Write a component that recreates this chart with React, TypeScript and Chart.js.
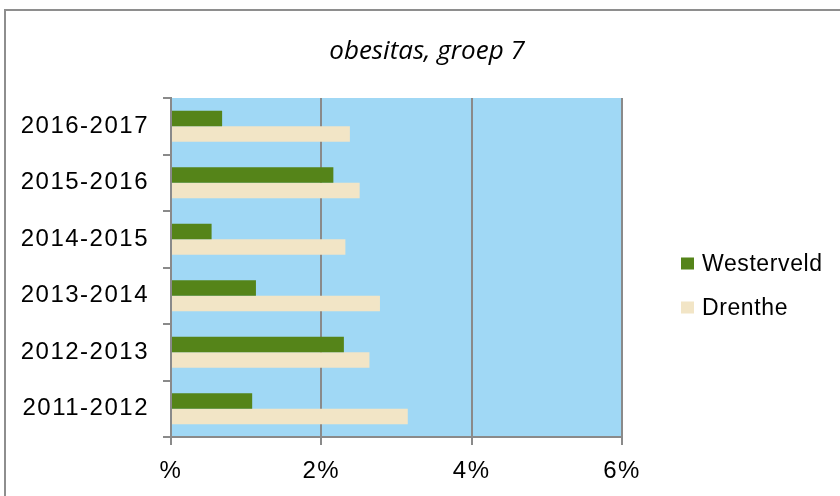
import React, { useEffect, useRef } from "react";
import { Chart, registerables } from "chart.js";

Chart.register(...registerables);

const years = ["2016-2017", "2015-2016", "2014-2015", "2013-2014", "2012-2013", "2011-2012"];
const westerveld = [0.68, 2.16, 0.54, 1.13, 2.30, 1.08];
const drenthe = [2.38, 2.51, 2.32, 2.78, 2.64, 3.15];
const seriesNames = ["Westerveld", "Drenthe"];
const xTickLabels = ["%", "2%", "4%", "6%"];
const chartTitle = "obesitas, groep 7";

const GREEN = "#558419";
const CREAM = "#f2e5c6";
const BLUE = "#a0d8f5";
const GRAY = "#8a8a8a";

const framePlugin = {
  id: "frame",
  beforeDraw(chart: any) {
    const { ctx, chartArea } = chart;
    ctx.save();
    ctx.fillStyle = "#ffffff";
    ctx.fillRect(0, 0, chart.width, chart.height);
    ctx.strokeStyle = "#8e8e8e";
    ctx.lineWidth = 2;
    ctx.beginPath();
    ctx.moveTo(5, chart.height);
    ctx.lineTo(5, 10);
    ctx.lineTo(chart.width, 10);
    ctx.stroke();
    ctx.fillStyle = BLUE;
    ctx.fillRect(chartArea.left, chartArea.top, chartArea.right - chartArea.left, chartArea.bottom - chartArea.top);
    ctx.restore();
    (ctx as any).letterSpacing = "1.5px";
  },
  afterDraw(chart: any) {
    const { ctx } = chart;
    ctx.save();
    (ctx as any).letterSpacing = "0px";
    ctx.fillStyle = "#000000";
    ctx.font = "italic 21px 'Open Sans'";
    const w = ctx.measureText(chartTitle).width;
    const size = Math.max(16, Math.min(26, (21 * 201) / w));
    ctx.font = `italic ${size.toFixed(1)}px 'Open Sans'`;
    ctx.textAlign = "center";
    ctx.textBaseline = "alphabetic";
    ctx.fillText(chartTitle, 427, 59);

    (ctx as any).letterSpacing = "0.6px";
    ctx.font = "23px 'Liberation Sans', Arial";
    ctx.textAlign = "left";
    ctx.textBaseline = "middle";
    const ys = [263.5, 307.5];
    chart.data.datasets.forEach((ds: any, i: number) => {
      ctx.fillStyle = ds.backgroundColor;
      ctx.fillRect(681, ys[i] - 6, 13, 12);
      ctx.fillStyle = "#000000";
      ctx.fillText(ds.label, 702, ys[i] + 1);
    });
    ctx.restore();
  },
};

export default function App() {
  const ref = useRef<HTMLCanvasElement | null>(null);
  useEffect(() => {
    if (!ref.current) return;
    const chart = new Chart(ref.current, {
      type: "bar",
      data: {
        labels: years,
        datasets: [
          { label: seriesNames[0], data: westerveld, backgroundColor: GREEN, borderWidth: 0 },
          { label: seriesNames[1], data: drenthe, backgroundColor: CREAM, borderWidth: 0 },
        ],
      },
      options: {
        indexAxis: "y",
        responsive: false,
        animation: false,
        devicePixelRatio: 1,
        layout: { padding: { left: 0, top: 98, right: 218, bottom: 0 } },
        datasets: { bar: { categoryPercentage: 0.55, barPercentage: 1.0 } },
        plugins: {
          legend: { display: false },
          title: { display: false },
          tooltip: { enabled: false },
        },
        scales: {
          x: {
            min: 0,
            max: 6,
            ticks: {
              stepSize: 2,
              padding: 12,
              color: "#000000",
              font: { family: "'Liberation Sans', Arial", size: 24 },
              callback: (v: any) => xTickLabels[Math.round(Number(v) / 2)],
              maxRotation: 0,
            },
            grid: { color: GRAY, lineWidth: 2, tickLength: 8, drawOnChartArea: true, drawTicks: true },
            border: { display: true, color: GRAY, width: 2 },
            afterFit: (scale: any) => {
              scale.height = 59;
            },
          },
          y: {
            ticks: {
              padding: 14,
              color: "#000000",
              font: { family: "'Liberation Sans', Arial", size: 24 },
              autoSkip: false,
            },
            grid: { color: GRAY, lineWidth: 2, tickLength: 8, drawOnChartArea: false, drawTicks: true, offset: true },
            border: { display: true, color: GRAY, width: 2 },
            afterFit: (scale: any) => {
              scale.width = 171;
            },
          },
        },
      },
      plugins: [framePlugin],
    });
    return () => chart.destroy();
  }, []);
  return (
    <div style={{ position: "fixed", left: 0, top: 0, width: 840, height: 496 }}>
      <canvas ref={ref} width={840} height={496} style={{ display: "block", width: 840, height: 496 }} />
    </div>
  );
}
